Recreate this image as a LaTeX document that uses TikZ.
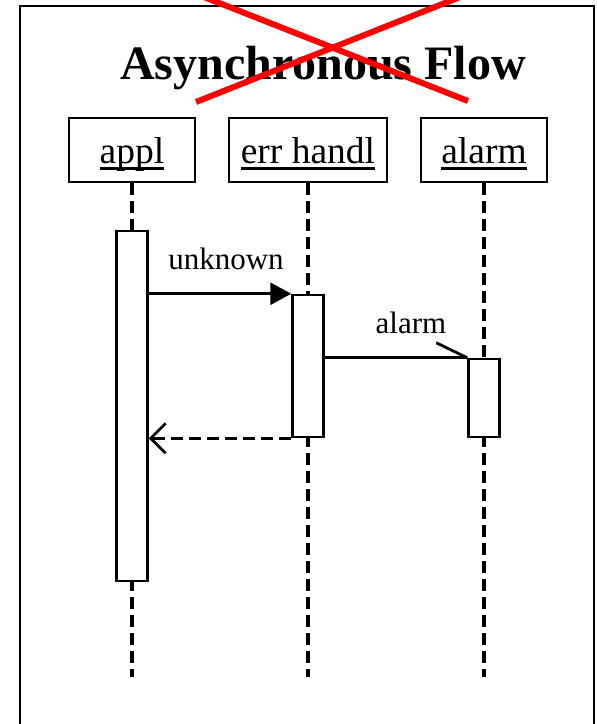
\documentclass[tikz,border=0pt]{standalone}
\usepackage{fontspec}
\setmainfont{Liberation Serif}
\usetikzlibrary{arrows.meta}
\newcommand\myul[1]{\setbox0\hbox{#1}\rlap{\raisebox{-6.5pt}{\rule{\wd0}{3pt}}}\box0}
\begin{document}
\begin{tikzpicture}[x=1pt,y=-1pt,
  hbox/.style={draw, line width=2.8pt, minimum height=64pt, inner sep=0},
  bar/.style={draw, fill=white, line width=2.5pt, minimum width=31pt, inner sep=0},
  life/.style={line width=3.2pt, dash pattern=on 12pt off 6pt},
  lbl/.style={anchor=base, inner sep=0, font=\fontsize{37.5}{40}\selectfont},
  mlbl/.style={anchor=base, inner sep=0, font=\fontsize{31}{34}\selectfont},
  msg/.style={line width=2.8pt}]
\useasboundingbox (0,0) rectangle (597,724);
\fill[white] (0,0) rectangle (597,724);
\draw[line width=2.8pt] (20,730) -- (20,6) -- (594,6) -- (594,730);
\node[anchor=base, inner sep=0, font=\bfseries\fontsize{48}{50}\selectfont] (title) at (323,79) {Asynchronous Flow};
% header boxes
\node[hbox, minimum width=126pt] (appl) at (132,150) {};
\node[lbl] (applt) at (132,163) {\myul{appl}};
\node[hbox, minimum width=158pt] (err) at (308,150) {};
\node[lbl] (errt) at (308,163) {\myul{err handl}};
\node[hbox, minimum width=126pt] (alarm) at (484,150) {};
\node[lbl] (alarmt) at (484,163) {\myul{alarm}};
% lifelines
\coordinate (e1) at (132,677);
\coordinate (e2) at (308,677);
\coordinate (e3) at (484,677);
\draw[life] (appl.south) -- (e1);
\draw[life] (err.south) -- (e2);
\draw[life] (alarm.south) -- (e3);
% activation bars
\node[bar, minimum height=350pt] (b1) at (132,406) {};
\node[bar, minimum height=142pt] (b2) at (308,366) {};
\node[bar, minimum height=78pt] (b3) at (484,398) {};
% messages
\draw[msg, -{Triangle[length=21pt,width=22pt]}] (b1.east |- b2.north west) -- (b2.north west);
\node[mlbl] (unk) at (226,269) {unknown};
\draw[msg] (b2.east |- b3.north west) -- (b3.north west);
\draw[msg] (b3.north west) -- ++(-31,-15);
\node[mlbl] (al) at (411,333) {alarm};
\draw[msg, dash pattern=on 12pt off 6pt, -{Straight Barb[length=15pt,width=30pt]}] (b2.south west) -- (b1.east |- b2.south west);
% red cross
\draw[red, line width=6pt] (196,102) -- (460,-3);
\draw[red, line width=6pt] (204,-3) -- (468,101);
\end{tikzpicture}
\end{document}
